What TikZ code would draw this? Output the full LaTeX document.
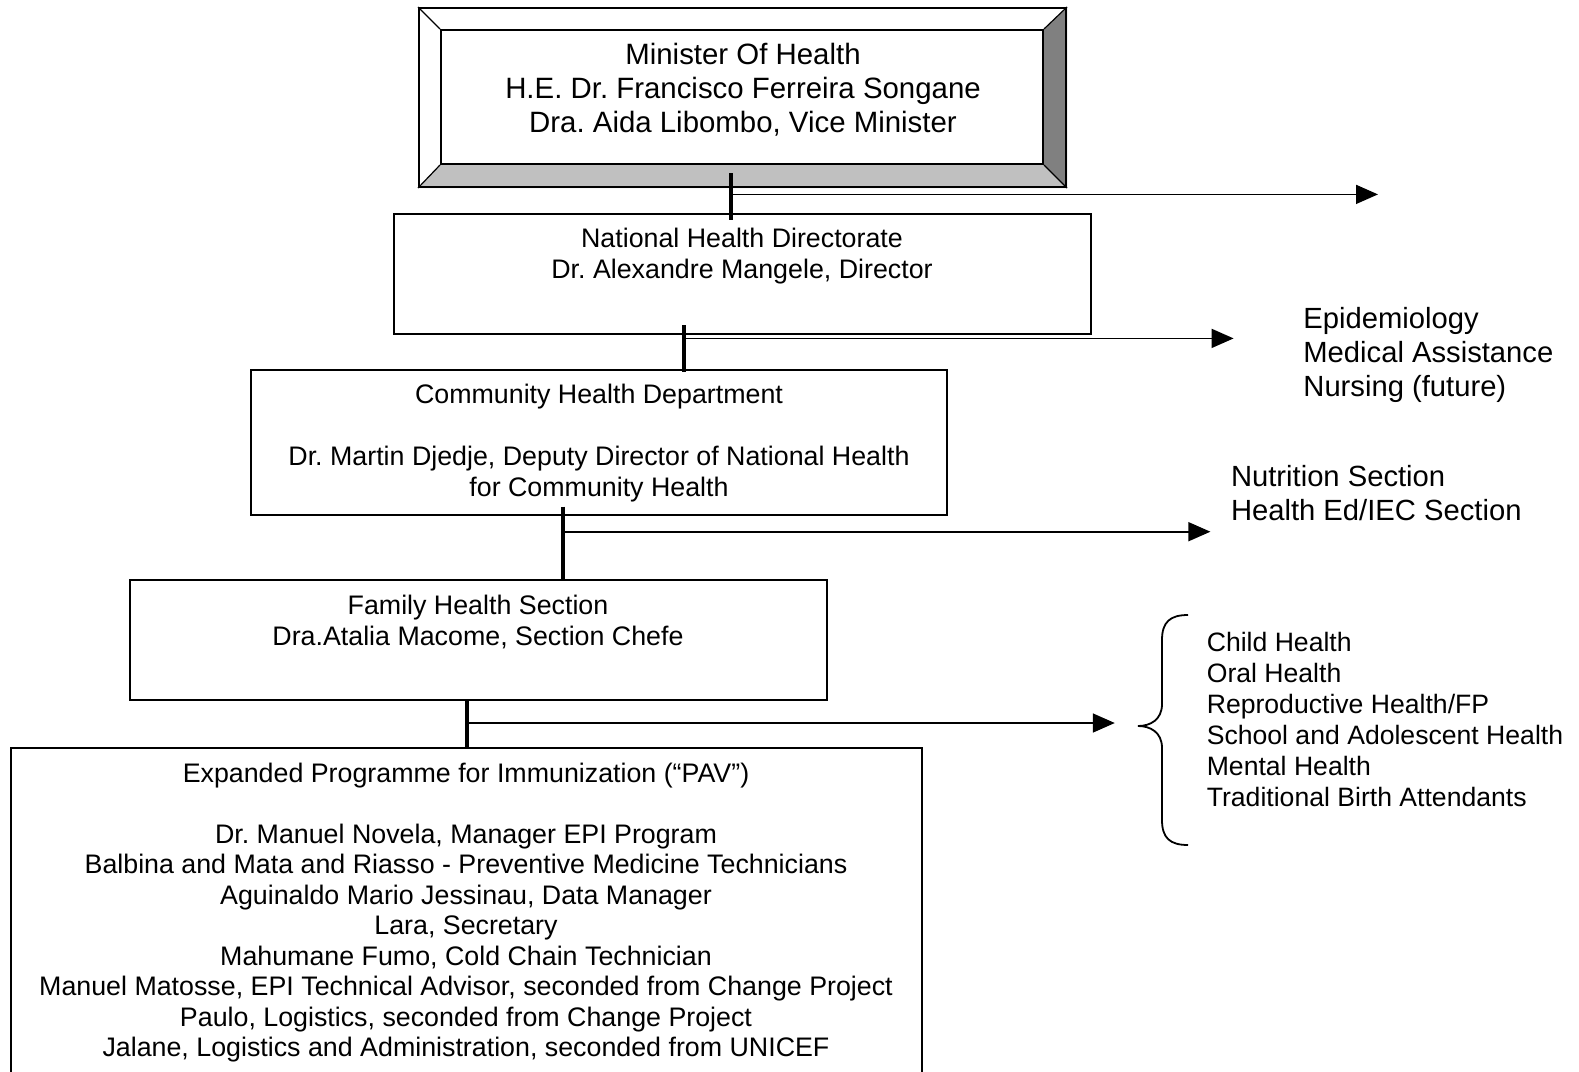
\documentclass[tikz,border=0pt]{standalone}
\usepackage{fontspec}
\setmainfont{Liberation Sans}
\usetikzlibrary{arrows.meta,positioning,backgrounds}
\definecolor{bevellight}{HTML}{C0C0C0}
\definecolor{beveldark}{HTML}{808080}
\frenchspacing

\begin{document}
\begin{tikzpicture}[x=0.5pt,y=-0.5pt,>={Triangle[length=11pt,width=9.5pt]},
    box/.style={draw,line width=1pt,inner sep=0pt},
    txt/.style={align=center,inner sep=0pt,font=\fontsize{13.4}{15.4}\selectfont},
    big txt/.style={txt,font=\fontsize{14.7}{17}\selectfont},
    list/.style={align=left,anchor=west,inner sep=0pt},
    trunk/.style={line width=2pt},
    branch/.style={->,line width=0.8pt}]

  \useasboundingbox (0,0) rectangle (1579,1071);
  \clip (0,0) rectangle (1579,1071);

  \node[box,minimum width=323.5pt,minimum height=89.5pt] (M) at (742.5,97.5) {};
  \node[box,minimum width=301pt,minimum height=67pt] (Mi) at (742,97) {};
  \begin{scope}[on background layer]
    \fill[bevellight] (M.south west) -- (M.south east) -- (Mi.south east) -- (Mi.south west) -- cycle;
    \fill[beveldark] (M.north east) -- (M.south east) -- (Mi.south east) -- (Mi.north east) -- cycle;
  \end{scope}
  \foreach \c in {north west,north east,south west,south east}
    \draw[line width=0.6pt] (M.\c) -- (Mi.\c);
  \node[big txt] (Mt) at (743,89.6) {Minister Of Health\\H.E. Dr. Francisco Ferreira Songane\\Dra. Aida Libombo, Vice Minister};

  \node[box,minimum width=348.3pt,minimum height=60.4pt] (N) at (742.3,273.9) {};
  \node[txt] (Nt) at (742,256.3) {National Health Directorate\\Dr. Alexandre Mangele, Director};

  \node[box,minimum width=348pt,minimum height=72.5pt] (C) at (598.6,442.1) {};
  \node[txt] (Ct) at (599,443.1) {Community Health Department\\[15.4pt]Dr. Martin Djedje, Deputy Director of National Health\\for Community Health};

  \node[box,minimum width=348.4pt,minimum height=60pt] (F) at (478.4,640) {};
  \node[txt] (Ft) at (478,621.7) {Family Health Section\\Dra.Atalia Macome, Section Chefe};

  \node[box,minimum width=455.7pt,minimum height=176pt] (E) at (466.7,924) {};
  \node[txt,font=\fontsize{13.4}{15.25}\selectfont] (Et) at (466,912.7) {Expanded Programme for Immunization (``PAV'')\\[15.25pt]
    Dr. Manuel Novela, Manager EPI Program\\
    Balbina and Mata and Riasso - Preventive Medicine Technicians\\
    Aguinaldo Mario Jessinau, Data Manager\\
    Lara, Secretary\\
    Mahumane Fumo, Cold Chain Technician\\
    Manuel Matosse, EPI Technical Advisor, seconded from Change Project\\
    Paulo, Logistics, seconded from Change Project\\
    Jalane, Logistics and Administration, seconded from UNICEF};

  \node[list,font=\fontsize{14.6}{17}\selectfont] (L1) at (1303,354.5) {Epidemiology\\Medical Assistance\\Nursing (future)};
  \node[list,font=\fontsize{14.6}{16.6}\selectfont] (L2) at (1230.6,493) {Nutrition Section\\Health Ed/IEC Section};
  \node[list,font=\fontsize{13.3}{15.5}\selectfont] (L3) at (1206.4,719) {Child Health\\Oral Health\\Reproductive Health/FP\\School and Adolescent Health\\Mental Health\\Traditional Birth Attendants};

  \coordinate (m) at (731,173);
  \coordinate (n) at (684,325);
  \coordinate (c) at (563,506.5);
  \coordinate (f) at (467,700);
  \coordinate (a1) at (1378,194.4);
  \coordinate (a2) at (1233.6,338.4);
  \coordinate (a3) at (1210.4,531.7);
  \coordinate (a4) at (1114.8,723);

  \draw[trunk] (m) -- ([yshift=-3.5pt]m |- N.north);
  \draw[trunk] (n) -- ([yshift=-1.5pt]n |- C.north);
  \draw[trunk] (c) -- (c |- F.north);
  \draw[trunk] (f) -- (f |- E.north);
  \draw[branch] (m |- a1) -- (a1);
  \draw[branch] (n |- a2) -- (a2);
  \draw[branch] (c |- a3) -- (a3);
  \draw[branch] (f |- a4) -- (a4);

  \draw[line width=0.9pt] (1188,615) .. controls (1170,615) and (1162,622) .. (1162,640)
    -- (1162,704) .. controls (1162,720) and (1150,726) .. (1138,726)
    .. controls (1150,726) and (1162,732) .. (1162,748)
    -- (1162,820) .. controls (1162,838) and (1170,845) .. (1188,845);
\end{tikzpicture}
\end{document}
